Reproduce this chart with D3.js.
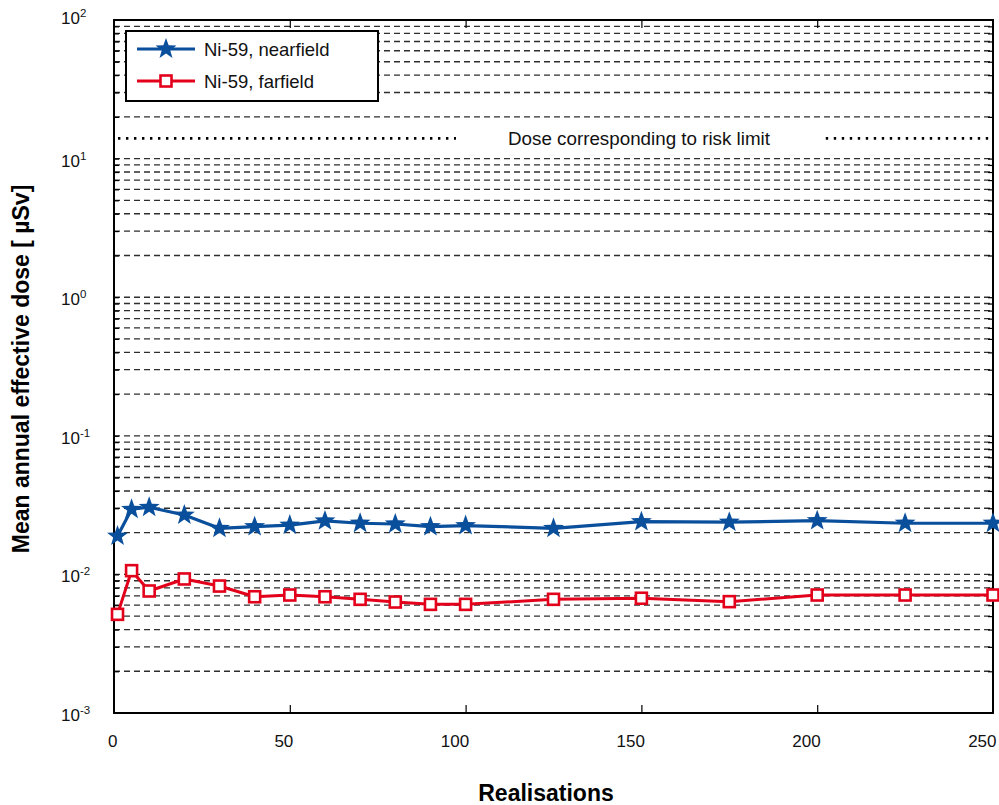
<!DOCTYPE html>
<html>
<head>
<meta charset="utf-8">
<script src="https://cdn.jsdelivr.net/npm/d3@7"></script>
<style>
  html, body { margin: 0; padding: 0; background: #fff; }
  svg { display: block; font-family: "Liberation Sans", Arial, sans-serif; }
</style>
</head>
<body>
<svg id="chart" width="999" height="805"></svg>
<script>
// Realisations at which the running mean dose was evaluated
const realisations = [1, 5, 10, 20, 30, 40, 50, 60, 70, 80, 90, 100, 125, 150, 175, 200, 225, 250];
// Mean annual effective dose (µSv)
const nearfield = [0.0189, 0.0295, 0.0305, 0.0268, 0.0215, 0.0221, 0.0227, 0.0243, 0.0234, 0.0231,
                   0.0221, 0.0225, 0.0215, 0.0240, 0.0238, 0.0244, 0.0234, 0.0234];
const farfield  = [0.00515, 0.01064, 0.00759, 0.00927, 0.00824, 0.00690, 0.00710, 0.00690, 0.00661, 0.00632,
                   0.00608, 0.00608, 0.00661, 0.00673, 0.00636, 0.00710, 0.00710, 0.00710];
const seriesNames = ["Ni-59, nearfield", "Ni-59, farfield"];
const riskDose = 14;           // dose corresponding to risk limit (µSv)
const riskLabel = "Dose corresponding to risk limit";
const xTicks = [0, 50, 100, 150, 200, 250];
const yDecades = [-3, -2, -1, 0, 1, 2];

const svg = d3.select("#chart");
const L = 114, R = 993, T = 20, B = 713;

const x = d3.scaleLinear().domain([0, 250]).range([L, R]);
const y = d3.scaleLog().domain([1e-3, 1e2]).range([B, T]);

const BLUE = "#0a4f9c", RED = "#e3001b";

// Dashed gridlines at every 1..9 x 10^n
const gridVals = y.ticks().filter(v => v > 1.0001e-3 && v < 99.99);
svg.append("g").selectAll("line").data(gridVals).join("line")
  .attr("x1", L).attr("x2", R)
  .attr("y1", d => y(d)).attr("y2", d => y(d))
  .attr("stroke", "#2e2e2e").attr("stroke-width", 1.35)
  .attr("stroke-dasharray", "6,4");

// Inner ticks on all four sides
svg.append("g").attr("transform", `translate(${L},0)`)
  .call(d3.axisLeft(y).tickValues(gridVals).tickSize(-5).tickFormat(""))
  .call(g => g.select(".domain").remove())
  .call(g => g.selectAll("line").attr("stroke", "#000").attr("stroke-width", 1.2));
svg.append("g").attr("transform", `translate(${R},0)`)
  .call(d3.axisRight(y).tickValues(gridVals).tickSize(-5).tickFormat(""))
  .call(g => g.select(".domain").remove())
  .call(g => g.selectAll("line").attr("stroke", "#000").attr("stroke-width", 1.2));
svg.append("g").attr("transform", `translate(0,${B})`)
  .call(d3.axisBottom(x).tickValues(xTicks.slice(1, -1)).tickSize(-8).tickFormat(""))
  .call(g => g.select(".domain").remove())
  .call(g => g.selectAll("line").attr("stroke", "#000").attr("stroke-width", 1.2));
svg.append("g").attr("transform", `translate(0,${T})`)
  .call(d3.axisTop(x).tickValues(xTicks.slice(1, -1)).tickSize(-8).tickFormat(""))
  .call(g => g.select(".domain").remove())
  .call(g => g.selectAll("line").attr("stroke", "#000").attr("stroke-width", 1.2));

// Risk-limit reference line, broken around its label
const riskY = y(riskDose);
const riskText = svg.append("text")
  .attr("x", 639).attr("y", riskY + 6.5)
  .attr("text-anchor", "middle")
  .attr("font-size", 18.8).attr("fill", "#111")
  .text(riskLabel);
const tb = riskText.node().getBBox();
const riskSegs = [[L + 4, tb.x - 52], [tb.x + tb.width + 55, R - 3]];
svg.append("g").selectAll("line").data(riskSegs).join("line")
  .attr("x1", d => d[0]).attr("x2", d => d[1])
  .attr("y1", riskY).attr("y2", riskY)
  .attr("stroke", "#000").attr("stroke-width", 2.6)
  .attr("stroke-dasharray", "2.4,5.6");

// Plot frame
svg.append("rect")
  .attr("x", L).attr("y", T).attr("width", R - L).attr("height", B - T)
  .attr("fill", "none").attr("stroke", "#000").attr("stroke-width", 2);

// Y tick labels 10^n
const yl = svg.append("g").attr("font-size", 17).attr("fill", "#111");
yDecades.forEach(n => {
  const v = Math.pow(10, n);
  const ty = y(v) + (n === 2 ? 3.5 : 8);
  const t = yl.append("text").attr("x", 61).attr("y", ty);
  t.append("tspan").text("10");
  t.append("tspan").attr("dy", -7).attr("font-size", 11.5).text(String(n));
});

// X tick labels
svg.append("g").selectAll("text").data(xTicks).join("text")
  .attr("x", d => x(d) + 3.5).attr("y", 747)
  .attr("text-anchor", "end").attr("font-size", 17).attr("fill", "#111")
  .text(d => d);

// Axis titles
svg.append("text")
  .attr("x", 546).attr("y", 801)
  .attr("text-anchor", "middle").attr("font-size", 23).attr("font-weight", "bold")
  .text("Realisations");
svg.append("text")
  .attr("transform", "translate(29,369) rotate(-90)")
  .attr("text-anchor", "middle").attr("font-size", 23).attr("font-weight", "bold")
  .text("Mean annual effective dose [ µSv]");

// Star marker path
function starPath(r1, r2) {
  const pts = [];
  for (let i = 0; i < 10; i++) {
    const a = -Math.PI / 2 + i * Math.PI / 5;
    const r = i % 2 === 0 ? r1 : r2;
    pts.push([r * Math.cos(a), r * Math.sin(a)]);
  }
  return "M" + pts.map(p => p[0].toFixed(2) + "," + p[1].toFixed(2)).join("L") + "Z";
}
const STAR = starPath(11, 4.5);

const line = d3.line().x(d => x(d[0])).y(d => y(d[1]));
const nearPts = realisations.map((r, i) => [r, nearfield[i]]);
const farPts = realisations.map((r, i) => [r, farfield[i]]);

// Nearfield series
svg.append("path").datum(nearPts).attr("d", line)
  .attr("fill", "none").attr("stroke", BLUE).attr("stroke-width", 3.2).attr("stroke-linejoin", "round");
svg.append("g").selectAll("path").data(nearPts).join("path")
  .attr("d", STAR)
  .attr("transform", d => `translate(${x(d[0])},${y(d[1])})`)
  .attr("fill", BLUE);

// Farfield series
svg.append("path").datum(farPts).attr("d", line)
  .attr("fill", "none").attr("stroke", RED).attr("stroke-width", 3).attr("stroke-linejoin", "round");
svg.append("g").selectAll("rect").data(farPts).join("rect")
  .attr("x", d => x(d[0]) - 5.5).attr("y", d => y(d[1]) - 5.5)
  .attr("width", 11).attr("height", 11)
  .attr("fill", "#fff").attr("stroke", RED).attr("stroke-width", 2.6);

// Legend
const lg = svg.append("g");
lg.append("rect").attr("x", 126).attr("y", 31).attr("width", 252).attr("height", 70)
  .attr("fill", "#fff").attr("stroke", "#000").attr("stroke-width", 2);
const legendY = [49, 81];
lg.append("line").attr("x1", 137).attr("x2", 195).attr("y1", legendY[0]).attr("y2", legendY[0])
  .attr("stroke", BLUE).attr("stroke-width", 3.2);
lg.append("path").attr("d", STAR).attr("transform", `translate(166,${legendY[0]})`).attr("fill", BLUE);
lg.append("line").attr("x1", 137).attr("x2", 195).attr("y1", legendY[1]).attr("y2", legendY[1])
  .attr("stroke", RED).attr("stroke-width", 3);
lg.append("rect").attr("x", 160.5).attr("y", legendY[1] - 5.5).attr("width", 11).attr("height", 11)
  .attr("fill", "#fff").attr("stroke", RED).attr("stroke-width", 2.6);
lg.selectAll("text.lt").data(seriesNames).join("text").attr("class", "lt")
  .attr("x", 204).attr("y", (d, i) => legendY[i] + 6.5)
  .attr("font-size", 18.5).attr("fill", "#111")
  .text(d => d);
</script>
</body>
</html>
